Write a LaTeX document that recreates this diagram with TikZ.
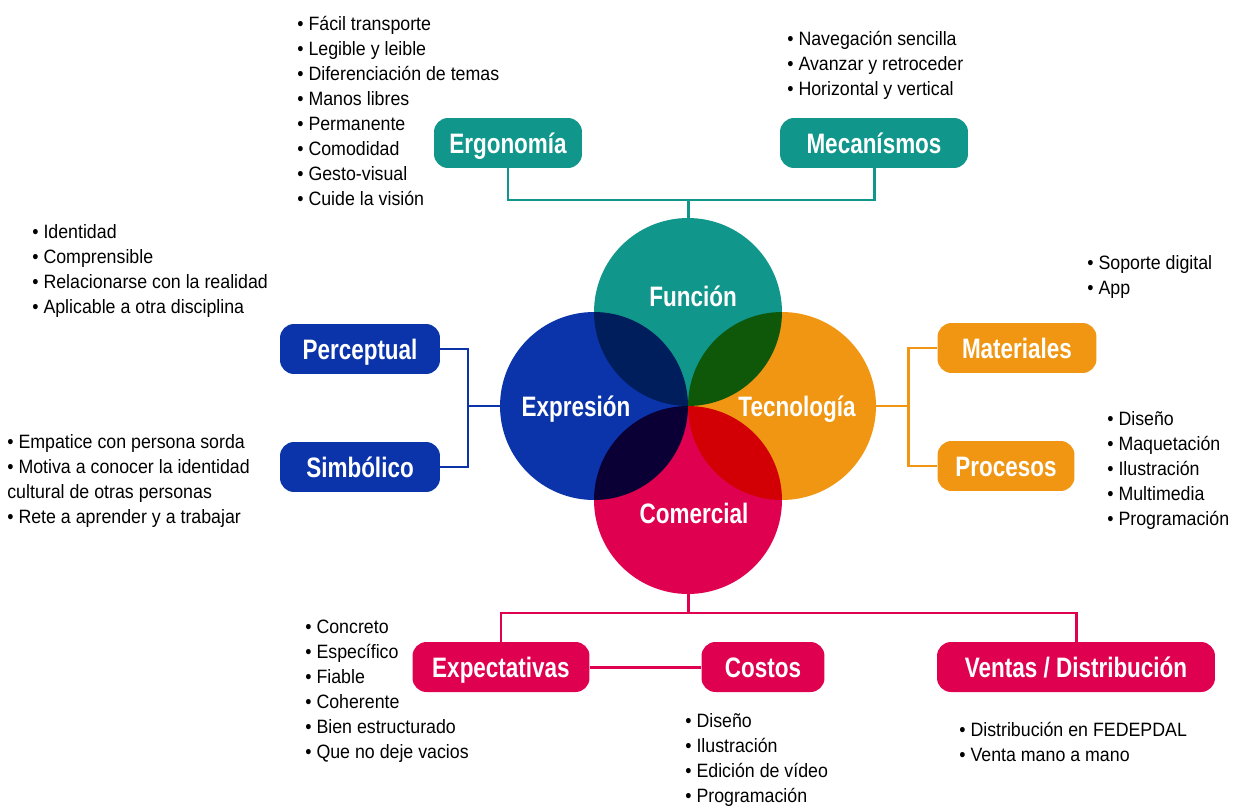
\documentclass[tikz,border=0pt]{standalone}
\usepackage{fontspec}
\setmainfont{Liberation Sans}[FakeStretch=0.92]
\newfontfamily\boxfont{Liberation Sans}[FakeStretch=0.8]
\definecolor{funcol}{RGB}{16,150,138}
\definecolor{expcol}{RGB}{12,52,170}
\definecolor{teccol}{RGB}{240,150,18}
\definecolor{comcol}{RGB}{224,0,80}
\newcommand\bul{\textbullet\ }
\tikzset{
  chip/.style={rounded corners=0.28cm, fill=#1, text=white, minimum height=1cm,
               font=\boxfont\bfseries\fontsize{16}{19}\selectfont, inner xsep=0.3cm,
               text height=11.5pt, text depth=0pt},
  wire/.style={draw=#1, line width=1.7pt},
  blist/.style={anchor=north west, inner sep=0pt, align=left,
                font=\fontsize{11}{14.2}\selectfont},
  circlab/.style={text=white, font=\boxfont\bfseries\fontsize{16}{19}\selectfont,
                  text height=11.5pt, text depth=0pt},
  disc/.style={circle, fill=#1, inner sep=0pt, minimum size=3.76cm}
}
\begin{document}
\begin{tikzpicture}[x=0.02cm, y=-0.02cm]
 \useasboundingbox (0,0) rectangle (1248,808);
 % the four overlapping circles
 \begin{scope}[blend group=multiply]
   \node[disc=funcol] (fun) at (688,312) {};
   \node[disc=expcol] (exp) at (594,406) {};
   \node[disc=teccol] (tec) at (782,406) {};
   \node[disc=comcol] (com) at (688,500) {};
 \end{scope}
 \node[circlab] (funlab) at (693,296) {Función};
 \node[circlab] (explab) at (576,406) {Expresión};
 \node[circlab] (teclab) at (797,406) {Tecnología};
 \node[circlab] (comlab) at (694,513) {Comercial};

 % boxes
 \node[chip=funcol, minimum width=2.96cm] (ergo) at (508,143) {Ergonomía};
 \node[chip=funcol, minimum width=3.76cm] (meca) at (874,143) {Mecanísmos};
 \node[chip=expcol, minimum width=3.2cm]  (perc) at (360,349) {Perceptual};
 \node[chip=expcol, minimum width=3.2cm]  (simb) at (360,467) {Simbólico};
 \node[chip=teccol, minimum width=3.18cm] (mate) at (1017,348) {Materiales};
 \node[chip=teccol, minimum width=2.74cm] (proc) at (1006,466) {Procesos};
 \node[chip=comcol, minimum width=3.54cm] (expe) at (501,667) {Expectativas};
 \node[chip=comcol, minimum width=2.46cm] (cost) at (763,667) {Costos};
 \node[chip=comcol, minimum width=5.56cm] (vent) at (1076,667) {Ventas / Distribución};

 % connectors
 \coordinate (fj) at (688,200);
 \draw[wire=funcol] (ergo.south) |- (fj) -| (meca.south);
 \draw[wire=funcol] (fj) -- (fun.north);
 \coordinate (ej) at (468,406);
 \draw[wire=expcol] (perc.east) -| (ej) |- (simb.east);
 \draw[wire=expcol] (ej) -- (exp.west);
 \coordinate (tj) at (908,406);
 \draw[wire=teccol] (mate.west) -| (tj) |- (proc.west);
 \draw[wire=teccol] (tj) -- (tec.east);
 \coordinate (cj) at (688,613);
 \draw[wire=comcol] (com.south) -- (cj);
 \draw[wire=comcol] (expe.north) |- (cj) -| (vent.north);
 \draw[wire=comcol] (expe.east) -- (cost.west);

 % bullet lists
 \node[blist] (ergolist) at (297,16) {\bul Fácil transporte\\ \bul Legible y leible\\
   \bul Diferenciación de temas\\ \bul Manos libres\\ \bul Permanente\\
   \bul Comodidad\\ \bul Gesto-visual\\ \bul Cuide la visión};
 \node[blist] (mecalist) at (787,31) {\bul Navegación sencilla\\
   \bul Avanzar y retroceder\\ \bul Horizontal y vertical};
 \node[blist] (perclist) at (32,224) {\bul Identidad\\ \bul Comprensible\\
   \bul Relacionarse con la realidad\\ \bul Aplicable a otra disciplina};
 \node[blist] (simblist) at (7,434) {\bul Empatice con persona sorda\\
   \bul Motiva a conocer la identidad\\ cultural de otras personas\\
   \bul Rete a aprender y a trabajar};
 \node[blist] (matelist) at (1087,255) {\bul Soporte digital\\ \bul App};
 \node[blist] (proclist) at (1107,411) {\bul Diseño\\ \bul Maquetación\\
   \bul Ilustración\\ \bul Multimedia\\ \bul Programación};
 \node[blist] (expelist) at (305,620) {\bul Concreto\\ \bul Específico\\ \bul Fiable\\
   \bul Coherente\\ \bul Bien estructurado\\ \bul Que no deje vacios};
 \node[blist] (costlist) at (685,713) {\bul Diseño\\ \bul Ilustración\\
   \bul Edición de vídeo\\ \bul Programación};
 \node[blist] (ventlist) at (959,722) {\bul Distribución en FEDEPDAL\\
   \bul Venta mano a mano};
\end{tikzpicture}
\end{document}
